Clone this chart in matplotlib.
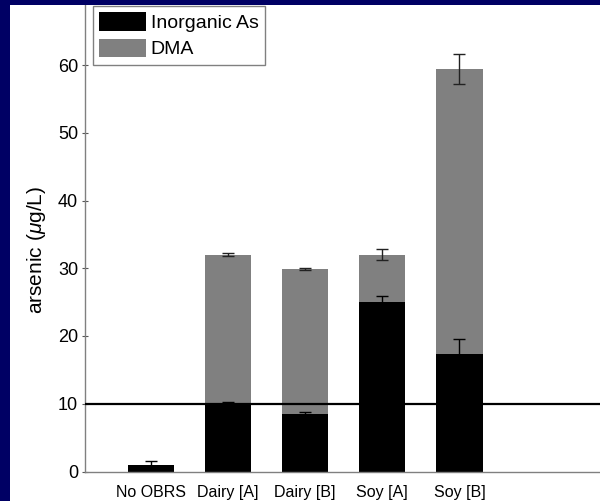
import matplotlib
matplotlib.use("Agg")
import matplotlib.pyplot as plt
from matplotlib.patches import Rectangle
import numpy as np

categories = ['No OBRS', 'Dairy [A]', 'Dairy [B]', 'Soy [A]', 'Soy [B]']
inorganic = [1.0, 10.1, 8.5, 25.0, 17.3]
dma = [0.0, 21.9, 21.4, 7.0, 42.1]
inorganic_err = [0.5, 0.15, 0.35, 0.85, 2.3]
total_err = [0.0, 0.2, 0.2, 0.8, 2.2]
limit = 10
yticks = [0, 10, 20, 30, 40, 50, 60, 70]

plt.rcParams['font.family'] = ['Liberation Sans', 'DejaVu Sans']
plt.rcParams['mathtext.fontset'] = 'custom'
plt.rcParams['mathtext.it'] = 'Liberation Sans:italic'
plt.rcParams['mathtext.rm'] = 'Liberation Sans'

W, H = 600, 501
fig = plt.figure(figsize=(W / 100, H / 100), dpi=100, facecolor='white')

left_px, right_px = 85, 620
bottom_px, top_px = 471.5, -2.75
ax = fig.add_axes([left_px / W, (H - bottom_px) / H,
                   (right_px - left_px) / W, (bottom_px - top_px) / H])

x = np.arange(1, len(categories) + 1)
total = np.array(inorganic) + np.array(dma)

ax.bar(x, inorganic, width=0.6, color='black', label='Inorganic As', zorder=2)
ax.bar(x, dma, width=0.6, bottom=inorganic, color='#808080', label='DMA', zorder=2)
ax.errorbar(x, inorganic, yerr=inorganic_err, fmt='none', ecolor='black',
            elinewidth=1, capsize=4, capthick=1, zorder=3)
mask = np.array(dma) > 0
ax.errorbar(x[mask], total[mask], yerr=np.array(total_err)[mask], fmt='none',
            ecolor='#222222', elinewidth=1, capsize=4, capthick=1, zorder=3)
ax.axhline(limit, color='black', lw=1.6, zorder=4)

ax.set_xlim(1 - 66 / 77.1, 1 + (right_px - 151) / 77.1)
ax.set_ylim(0, 70)
ax.set_yticks(yticks)
ax.set_xticks(x)
ax.set_xticklabels(categories, fontsize=11.5)
ax.tick_params(axis='x', length=0, pad=10, colors='black')
ax.tick_params(axis='y', direction='inout', length=4, width=0.8, pad=3,
               labelsize=13, color='#555555')
for s in ax.spines.values():
    s.set_color('#808080')
    s.set_linewidth(1.0)
ax.set_ylabel(r'arsenic ($\mu$g/L)', fontsize=15)
ax.yaxis.set_label_coords(-0.070, (471.5 - 250) / 474.25)

leg = ax.legend(loc='upper left', bbox_to_anchor=(93 / W, 1 - 6 / H),
                bbox_transform=fig.transFigure, borderaxespad=0,
                fontsize=14, fancybox=False, framealpha=1,
                edgecolor='#808080', handlelength=2.42, handleheight=1.08,
                handletextpad=0.22, labelspacing=0.33, borderpad=0.33)
leg.get_frame().set_linewidth(1.0)

navy = '#000064'
fig.add_artist(Rectangle((0, 0), 10 / W, 1, transform=fig.transFigure,
                         facecolor=navy, edgecolor='none', zorder=10))
fig.add_artist(Rectangle((0, 1 - 5 / H), 1, 5 / H, transform=fig.transFigure,
                         facecolor=navy, edgecolor='none', zorder=10))

fig.savefig('out.png', dpi=100, facecolor=fig.get_facecolor())
